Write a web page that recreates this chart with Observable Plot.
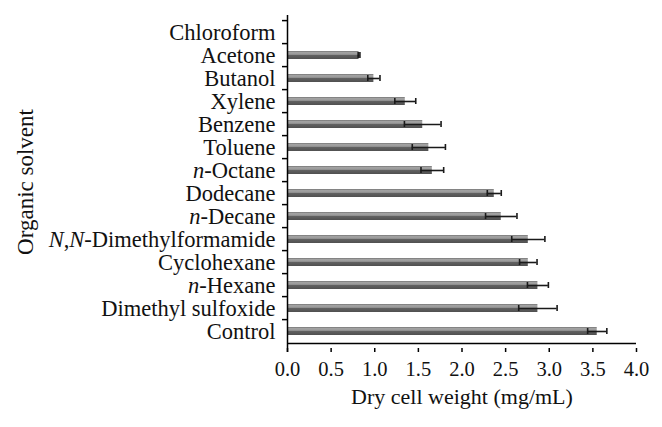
<!DOCTYPE html>
<html><head><meta charset="utf-8">
<script src="https://cdn.jsdelivr.net/npm/d3@7"></script>
<script src="https://cdn.jsdelivr.net/npm/@observablehq/plot@0.6"></script>
<style>body{margin:0;background:#fff}</style>
</head><body><div id="chart"></div>
<script>
const solvents = ["Chloroform","Acetone","Butanol","Xylene","Benzene","Toluene","n-Octane","Dodecane","n-Decane","N,N-Dimethylformamide","Cyclohexane","n-Hexane","Dimethyl sulfoxide","Control"];
const weights = [0, 0.82, 0.99, 1.35, 1.55, 1.62, 1.66, 2.37, 2.45, 2.76, 2.76, 2.87, 2.87, 3.55];
const errors  = [0, 0.01, 0.07, 0.12, 0.21, 0.19, 0.13, 0.08, 0.18, 0.19, 0.10, 0.12, 0.22, 0.11];
const xTicks = [0, 0.5, 1, 1.5, 2, 2.5, 3, 3.5, 4];
const xTitle = "Dry cell weight (mg/mL)";
const yTitle = "Organic solvent";

const data = solvents.map((s, i) => ({s, v: weights[i], e: errors[i]}));
const errData = data.filter(d => d.v > 0);

const W = 662, H = 427, mt = 15, mb = 79, ml = 287, mr = 26;
const step = (H - mt - mb) / solvents.length;

const plot = Plot.plot({
  width: W, height: H,
  marginTop: mt, marginBottom: mb, marginLeft: ml, marginRight: mr,
  style: {fontFamily: "Liberation Serif", fontSize: "22px", color: "#111", background: "#fff"},
  x: {domain: [0, 4]},
  y: {domain: solvents, paddingInner: 0.64, paddingOuter: 0.32},
  marks: [
    Plot.barX(data, {y: "s", x: "v", fill: "url(#barGrad)"}),
    Plot.ruleY(errData, {y: "s", x1: d => d.v - d.e, x2: d => d.v + d.e, stroke: "#1a1a1a", strokeWidth: 1.6}),
    Plot.tickX(errData, {y: "s", x: d => d.v - d.e, stroke: "#1a1a1a", strokeWidth: 1.6, insetTop: 1, insetBottom: 1}),
    Plot.tickX(errData, {y: "s", x: d => d.v + d.e, stroke: "#1a1a1a", strokeWidth: 1.6, insetTop: 1, insetBottom: 1}),
    Plot.ruleX([0], {stroke: "#000", strokeWidth: 1.5, insetBottom: -4}),
    Plot.ruleY(["Control"], {y: d => d, x1: 0, x2: 4, dy: step / 2, stroke: "#000", strokeWidth: 1.5}),
    Plot.ruleY(solvents, {y: d => d, x1: 0, x2: 0, insetLeft: -5, dy: -step / 2, stroke: "#000", strokeWidth: 1.5}),
    Plot.axisX({ticks: xTicks, tickFormat: d3.format(".1f"), tickSize: 4, tickPadding: 9, fontSize: 20.5,
      label: null, stroke: "#000", strokeWidth: 1.5}),
    Plot.axisY({tickSize: 0, tickPadding: 12, fontSize: 22.5, label: null}),
    Plot.text([xTitle], {text: d => d, frameAnchor: "bottom", lineAnchor: "top", dy: 40, fontSize: 22, fill: "#111"}),
    Plot.text([yTitle], {text: d => d, frameAnchor: "left", textAnchor: "middle", lineAnchor: "top", rotate: -90, dx: -271, fontSize: 23, fill: "#111"})
  ]
});

d3.select(plot).insert("defs", ":first-child").html(`
  <linearGradient id="barGrad" x1="0" y1="0" x2="0" y2="1">
    <stop offset="0" stop-color="#6e6e6e"/>
    <stop offset="0.15" stop-color="#a2a2a2"/>
    <stop offset="0.42" stop-color="#9a9a9a"/>
    <stop offset="0.52" stop-color="#626262"/>
    <stop offset="1" stop-color="#505050"/>
  </linearGradient>`);

// italicize the chemical prefixes
d3.select(plot).selectAll("g[aria-label='y-axis tick label'] text").each(function() {
  const t = this.textContent;
  const m = t.match(/^(n)(-.*)$/);
  const el = d3.select(this);
  if (t.startsWith("N,N-")) {
    this.textContent = "";
    el.append("tspan").attr("font-style", "italic").text("N");
    el.append("tspan").text(",");
    el.append("tspan").attr("font-style", "italic").text("N");
    el.append("tspan").text(t.slice(3));
  } else if (m) {
    this.textContent = "";
    el.append("tspan").attr("font-style", "italic").text(m[1]);
    el.append("tspan").text(m[2]);
  }
});

document.getElementById("chart").appendChild(plot);
</script>
</body></html>
